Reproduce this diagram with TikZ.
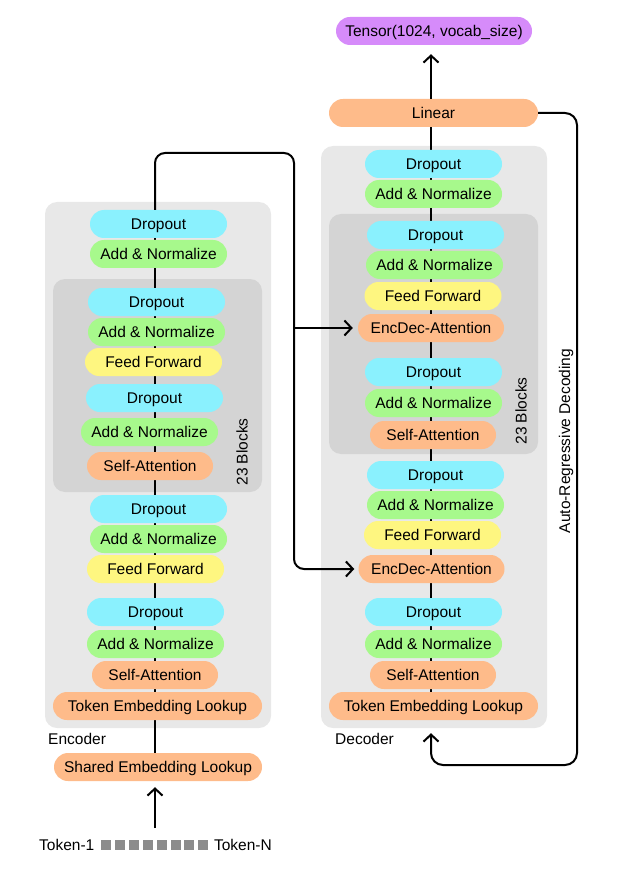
\documentclass[tikz,border=0pt]{standalone}
\usepackage{fontspec}
\setmainfont{Liberation Sans}
\usetikzlibrary{arrows.meta}
\definecolor{dropcol}{HTML}{8AF1FE}
\definecolor{addcol}{HTML}{A7F98C}
\definecolor{feedcol}{HTML}{FEF680}
\definecolor{attcol}{HTML}{FEBB8A}
\definecolor{tensorcol}{HTML}{D68BFA}
\definecolor{outercol}{HTML}{E8E8E8}
\definecolor{innercol}{HTML}{D4D4D4}
\definecolor{tokcol}{HTML}{8C8C8C}
\pgfdeclarelayer{panels}
\pgfdeclarelayer{wires}
\pgfsetlayers{panels,wires,main}
\begin{document}
\begin{tikzpicture}[x=1pt,y=-1pt,
    pill/.style={rounded corners=14pt, minimum height=28pt, inner sep=0pt, text height=11pt, text depth=0pt, font=\fontsize{15.5}{18}\selectfont},
    drop/.style={pill, fill=dropcol, minimum width=137pt},
    addnorm/.style={pill, fill=addcol, minimum width=137pt},
    feed/.style={pill, fill=feedcol, minimum width=137pt},
    attn/.style={pill, fill=attcol},
    txt/.style={font=\fontsize{15.5}{18}\selectfont, inner sep=0pt},
    wire/.style={line width=2pt},
    arr/.style={wire, -{Straight Barb[length=7pt,width=15pt]}}]
      \useasboundingbox (0,0) rectangle (624,882);

      \begin{pgfonlayer}{panels}
        \fill[outercol, rounded corners=12pt] (45,202) rectangle (271,728);
        \fill[innercol, rounded corners=12pt] (53,279) rectangle (262,492);
        \fill[outercol, rounded corners=12pt] (321,146) rectangle (547,728);
        \fill[innercol, rounded corners=12pt] (329,214) rectangle (538,454);
      \end{pgfonlayer}

      % encoder
      \node[drop] (ed1) at (158.5,224) {Dropout};
      \node[addnorm] (ea1) at (158.5,254) {Add \& Normalize};
      \node[drop] (ed2) at (156.5,302) {Dropout};
      \node[addnorm] (ea2) at (156.5,332) {Add \& Normalize};
      \node[feed] (ef1) at (153.5,362) {Feed Forward};
      \node[drop] (ed3) at (154.5,398) {Dropout};
      \node[addnorm] (ea3) at (149.5,432) {Add \& Normalize};
      \node[attn, minimum width=126pt] (es1) at (150,466) {Self-Attention};
      \node[txt, rotate=90] (eblk) at (242,452) {23 Blocks};
      \node[drop] (ed4) at (158.5,509) {Dropout};
      \node[addnorm] (ea4) at (158.5,539) {Add \& Normalize};
      \node[feed] (ef2) at (155.5,569) {Feed Forward};
      \node[drop] (ed5) at (155.5,612) {Dropout};
      \node[addnorm] (ea5) at (155.5,644) {Add \& Normalize};
      \node[attn, minimum width=126pt] (es2) at (155,675) {Self-Attention};
      \node[attn, minimum width=209pt] (etok) at (157.5,706) {Token Embedding Lookup};
      \node[txt, anchor=west] (enc) at (48,739) {Encoder};
      \node[attn, minimum width=208pt] (shared) at (158,767) {Shared Embedding Lookup};
      \node[txt, anchor=west] (tok1) at (39,845) {Token-1};
      \node[txt, anchor=east] (tokn) at (272,845) {Token-N};
      \foreach \i in {0,...,7}
        \fill[tokcol] (101+\i*13.9,840) rectangle ++(10,10);

      % decoder
      \node[pill, fill=tensorcol, minimum width=196pt] (tensor) at (434,31) {Tensor(1024, vocab\_size)};
      \node[attn, minimum width=209pt] (linear) at (433.5,113) {Linear};
      \node[drop] (dd1) at (433.5,164) {Dropout};
      \node[addnorm] (da1) at (433.5,194) {Add \& Normalize};
      \node[drop] (dd2) at (435.5,235) {Dropout};
      \node[addnorm] (da2) at (434.5,265) {Add \& Normalize};
      \node[feed] (df1) at (433,296) {Feed Forward};
      \node[attn, minimum width=146pt] (dx1) at (431,328) {EncDec-Attention};
      \node[drop] (dd3) at (433.5,372) {Dropout};
      \node[addnorm] (da3) at (433.5,403) {Add \& Normalize};
      \node[attn, minimum width=126pt] (ds1) at (433,435) {Self-Attention};
      \node[txt, rotate=90] (dblk) at (521,411) {23 Blocks};
      \node[drop] (dd4) at (435.5,475) {Dropout};
      \node[addnorm] (da4) at (435.5,505) {Add \& Normalize};
      \node[feed] (df2) at (432.5,535) {Feed Forward};
      \node[attn, minimum width=146pt] (dx2) at (431.5,569) {EncDec-Attention};
      \node[drop] (dd5) at (433.5,612) {Dropout};
      \node[addnorm] (da5) at (433.5,644) {Add \& Normalize};
      \node[attn, minimum width=126pt] (ds2) at (433,675) {Self-Attention};
      \node[attn, minimum width=209pt] (dtok) at (433.5,706) {Token Embedding Lookup};
      \node[txt, anchor=west] (dec) at (335,739) {Decoder};
      \node[txt, rotate=90] (autoreg) at (566,441) {Auto-Regressive Decoding};

      \coordinate (encup) at (155,153);
      \coordinate (encright) at (294,153);
      \coordinate (tokup) at (155,828);
      \coordinate (decx) at (431,0);
      \coordinate (loopx) at (577,765);

      \begin{pgfonlayer}{wires}
        \draw[wire] (shared.north -| encup) -- (ed1.south -| encup);
        \draw[wire] (dtok.north -| decx) -- (linear.south -| decx);
      \end{pgfonlayer}
      \draw[arr, rounded corners=10pt, shorten >=4pt] (ed1.north -| encup) -- (encup) -- (encright) -- (encright |- dx2) -- (dx2.west);
      \draw[arr, shorten >=5pt] (encright |- dx1) -- (dx1.west);
      \draw[arr, shorten >=6pt] (tokup) -- (shared.south -| tokup);
      \draw[arr, shorten >=9pt] (linear.north -| decx) -- (tensor.south -| decx);
      \draw[arr, rounded corners=12pt, shorten >=13pt] (linear.east) -- (loopx |- linear) -- (loopx) -- (loopx -| decx) -- (dtok.south -| decx);
    \end{tikzpicture}
\end{document}
